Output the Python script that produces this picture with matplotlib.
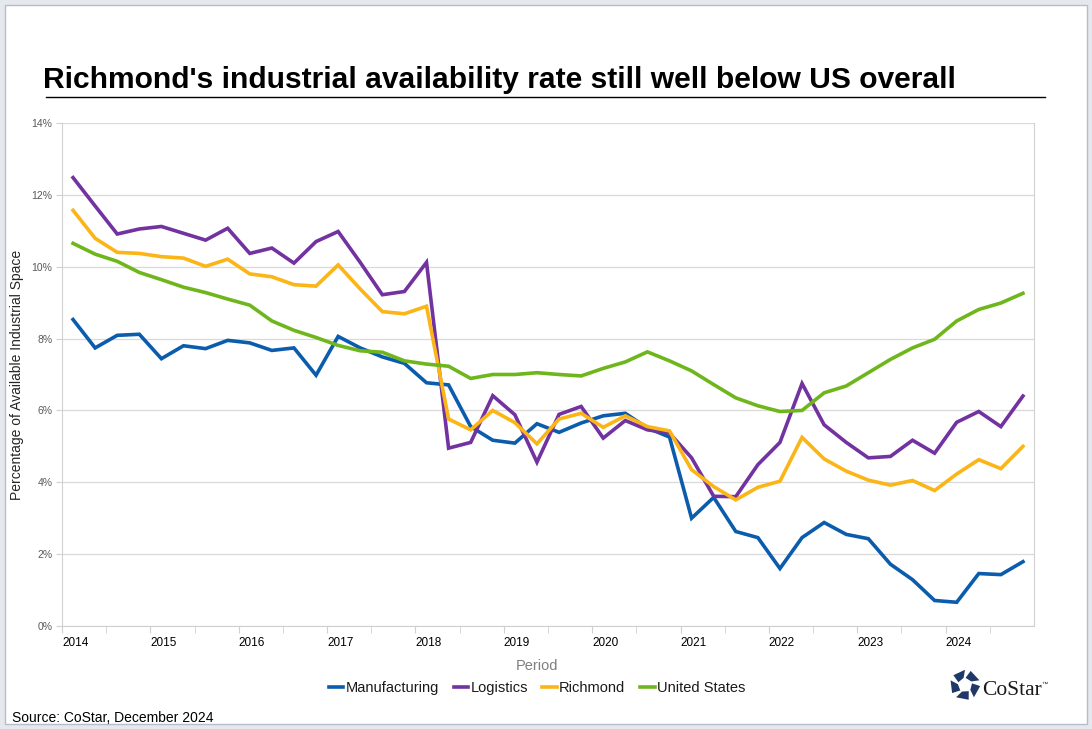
import matplotlib
matplotlib.use("Agg")
import matplotlib.pyplot as plt
from matplotlib.patches import Polygon, Rectangle
from matplotlib.lines import Line2D
import numpy as np

plt.rcParams['font.family'] = ['Liberation Sans', 'DejaVu Sans']

# Quarterly data 2014 Q1 .. 2024 Q4
years = list(range(2014, 2025))
manufacturing = [8.53, 7.74, 8.09, 8.12, 7.44, 7.80, 7.72, 7.95, 7.88, 7.67, 7.74, 6.98,
                 8.06, 7.74, 7.49, 7.31, 6.77, 6.71, 5.55, 5.17, 5.09, 5.63, 5.39, 5.65,
                 5.85, 5.92, 5.51, 5.26, 3.00, 3.58, 2.63, 2.46, 1.60, 2.46, 2.88, 2.55,
                 2.43, 1.72, 1.29, 0.71, 0.66, 1.46, 1.43, 1.79]
logistics = [12.48, 11.69, 10.91, 11.05, 11.12, 10.93, 10.74, 11.07, 10.37, 10.52, 10.10, 10.70,
             10.98, 10.12, 9.22, 9.31, 10.12, 4.95, 5.11, 6.41, 5.88, 4.56, 5.89, 6.11,
             5.23, 5.72, 5.46, 5.37, 4.68, 3.61, 3.60, 4.49, 5.11, 6.75, 5.60, 5.11,
             4.68, 4.72, 5.17, 4.81, 5.67, 5.97, 5.55, 6.40]
richmond = [11.57, 10.79, 10.40, 10.37, 10.28, 10.24, 10.01, 10.21, 9.80, 9.72, 9.50, 9.46,
            10.05, 9.38, 8.75, 8.69, 8.90, 5.76, 5.46, 6.00, 5.66, 5.07, 5.76, 5.92,
            5.53, 5.85, 5.55, 5.43, 4.35, 3.88, 3.51, 3.86, 4.03, 5.25, 4.65, 4.31,
            4.06, 3.92, 4.05, 3.77, 4.23, 4.63, 4.38, 5.00]
united_states = [10.65, 10.35, 10.15, 9.84, 9.64, 9.43, 9.28, 9.10, 8.93, 8.49, 8.23, 8.03,
                 7.81, 7.66, 7.62, 7.38, 7.29, 7.23, 6.89, 7.00, 7.00, 7.05, 7.00, 6.96,
                 7.17, 7.35, 7.63, 7.38, 7.10, 6.72, 6.35, 6.13, 5.97, 6.00, 6.49, 6.68,
                 7.05, 7.42, 7.74, 7.98, 8.49, 8.81, 8.99, 9.26]
series_names = ["Manufacturing", "Logistics", "Richmond", "United States"]
series_values = [manufacturing, logistics, richmond, united_states]
colors = ["#0b5cad", "#7232a0", "#fbb516", "#6fb61c"]

x = np.array([y + 0.125 + 0.25 * q for y in years for q in range(4)])

W, H = 1092, 729
fig = plt.figure(figsize=(W / 100, H / 100), dpi=100)
fig.patch.set_facecolor("#e6e8ef")

def fx(px):
    return px / W

def fy(py):
    return 1 - py / H

# white panel with thin border
panel = Rectangle((fx(5), fy(724)), fx(1082), 719 / H, transform=fig.transFigure,
                  facecolor="white", edgecolor="#b8bcc6", linewidth=1.0, zorder=-10)
fig.patches.append(panel)

# title
fig.text(fx(43), fy(88), "Richmond's industrial availability rate still well below US overall",
         fontsize=21.6, fontweight="bold", color="black", ha="left", va="baseline")
fig.add_artist(Line2D([fx(46), fx(1045)], [fy(97), fy(97)], transform=fig.transFigure,
                      color="black", linewidth=1.0))

ax = fig.add_axes([fx(62), fy(626), fx(1034 - 62), (626 - 123) / H])
ax.set_zorder(1)
ax.patch.set_alpha(0)
for name, vals, c in zip(series_names, series_values, colors):
    ax.plot(x, vals, color=c, linewidth=2.6, label=name, solid_joinstyle="miter")

ax.set_xlim(2014, 2025)
ax.set_ylim(0, 14)
ax.set_yticks(range(0, 15, 2))
ax.set_yticklabels([f"{v}%" for v in range(0, 15, 2)], fontsize=7.5, color="#595959")
ax.set_xticks(years)
ax.set_xticklabels([str(y) for y in years], fontsize=8.5, color="black", ha="left")
ax.set_xticks([y + 0.5 for y in years], minor=True)
ax.tick_params(axis="x", which="both", length=5, color="#d0d0d0", pad=3)
ax.tick_params(axis="y", length=4, color="#d0d0d0", pad=3)
ax.grid(axis="y", color="#d9d9d9", linewidth=0.9)
ax.set_axisbelow(True)
for side in ["left", "bottom", "right"]:
    ax.spines[side].set_color("#d0d0d0")
ax.spines["top"].set_visible(False)

fig.text(fx(17), fy(375), "Percentage of Available Industrial Space", fontsize=10,
         color="#262626", rotation=90, ha="center", va="center")
fig.text(fx(537), fy(666), "Period", fontsize=10.5, color="#7f7f7f", ha="center", va="center")

leg = fig.legend(loc="center", bbox_to_anchor=(fx(537), fy(688)), ncol=4, frameon=False,
                 fontsize=10.5, handlelength=1.0, handletextpad=0.15, columnspacing=1.0)
for t in leg.get_texts():
    t.set_color("#1a1a1a")

fig.text(fx(12), fy(722), "Source: CoStar, December 2024", fontsize=10, color="black",
         ha="left", va="baseline")

# CoStar logo (simple approximation)
lax = fig.add_axes([fx(949), fy(701), fx(32), 32 / H])
lax.set_zorder(2)
lax.set_xlim(-1, 1)
lax.set_ylim(-1, 1)
lax.set_aspect("equal")
lax.axis("off")
for i in range(5):
    a0 = np.deg2rad(90 + i * 72)
    a1 = a0 + np.deg2rad(50)
    pts = [(0.95 * np.cos(a0), 0.95 * np.sin(a0)),
           (0.95 * np.cos(a1), 0.95 * np.sin(a1)),
           (0.45 * np.cos(a1 + 0.3), 0.45 * np.sin(a1 + 0.3)),
           (0.45 * np.cos(a0 + 0.2), 0.45 * np.sin(a0 + 0.2))]
    lax.add_patch(Polygon(pts, closed=True, facecolor="#1f3868", edgecolor="none"))
fig.text(fx(982), fy(695), "CoStar", fontsize=15.5, family=["Liberation Serif", "DejaVu Serif"],
         color="#1a1a1a", ha="left", va="baseline")
fig.text(fx(1041), fy(686), "™", fontsize=4.5, color="#1a1a1a", ha="left", va="baseline")

fig.savefig("out.png", dpi=100, facecolor=fig.get_facecolor())
